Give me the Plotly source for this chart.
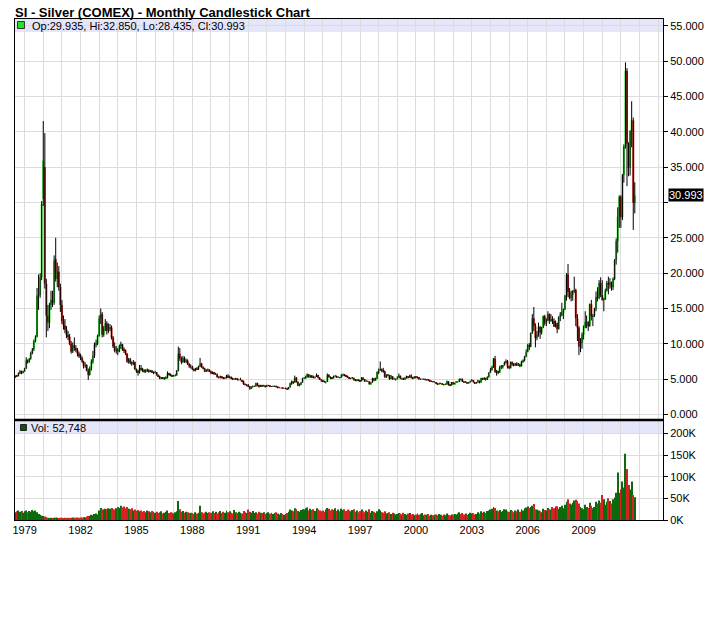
import plotly.graph_objects as go
import pandas as pd

# ---------------- data (monthly, Jul 1978 .. Oct 2011) ----------------
months = pd.date_range("1978-07-01", "2011-10-01", freq="MS")

opens = [
    5.30, 5.45, 5.42, 5.85, 6.10, 5.90,  # 1978 H2
    6.10, 6.50, 7.60, 7.45, 7.90, 8.70, 9.20, 10.40, 11.00, 16.80, 16.90, 19.40,  # 1979
    30.50, 35.00, 18.50, 14.00, 13.00, 15.50, 16.20, 15.80, 22.00, 19.20, 20.20, 18.00,  # 1980
    15.50, 13.20, 12.60, 12.00, 11.20, 11.00, 10.00, 8.90, 9.80, 9.40, 9.10, 8.60,  # 1981
    8.40, 8.00, 7.50, 6.90, 7.00, 6.20, 5.60, 6.60, 7.50, 8.30, 9.90, 10.00,  # 1982
    11.10, 13.60, 14.20, 11.30, 12.20, 12.90, 11.80, 12.10, 12.30, 10.90, 9.60, 9.00,  # 1983
    9.20, 8.90, 9.70, 9.90, 9.20, 9.10, 8.60, 7.50, 7.80, 7.30, 7.20, 7.40,  # 1984
    6.40, 6.10, 5.90, 6.50, 6.40, 6.20, 6.10, 6.20, 6.30, 6.10, 6.20, 6.00,  # 1985
    5.90, 6.00, 5.60, 5.40, 5.10, 5.20, 5.10, 5.10, 5.20, 5.80, 5.60, 5.50,  # 1986
    5.40, 5.50, 5.50, 6.20, 8.60, 7.90, 7.40, 8.00, 7.50, 7.60, 7.10, 6.80,  # 1987
    6.80, 6.40, 6.20, 6.50, 6.40, 6.80, 7.20, 6.70, 6.50, 6.10, 6.20, 6.30,  # 1988
    6.10, 5.80, 6.00, 5.70, 5.70, 5.30, 5.20, 5.40, 5.20, 5.10, 5.10, 5.50,  # 1989
    5.30, 5.30, 5.10, 5.00, 5.00, 5.10, 4.90, 4.90, 4.90, 4.70, 4.30, 4.20,  # 1990
    4.20, 4.00, 3.70, 3.90, 4.00, 4.00, 4.40, 4.10, 3.90, 4.10, 4.00, 4.10,  # 1991
    3.90, 4.10, 4.10, 4.00, 3.90, 4.00, 4.00, 3.90, 3.80, 3.80, 3.80, 3.70,  # 1992
    3.70, 3.70, 3.60, 3.80, 4.40, 4.60, 4.50, 5.20, 4.60, 4.10, 4.30, 4.50,  # 1993
    5.10, 5.10, 5.30, 5.70, 5.30, 5.50, 5.30, 5.20, 5.30, 5.60, 5.20, 5.00,  # 1994
    4.90, 4.70, 4.60, 4.60, 5.60, 5.30, 5.20, 5.10, 5.40, 5.40, 5.30, 5.30,  # 1995
    5.20, 5.60, 5.60, 5.50, 5.40, 5.30, 5.10, 5.10, 5.20, 4.90, 4.80, 4.90,  # 1996
    4.80, 4.70, 5.20, 5.00, 4.70, 4.70, 4.70, 4.30, 4.50, 5.10, 4.80, 5.00,  # 1997
    6.00, 6.20, 6.40, 6.30, 6.10, 5.30, 5.50, 5.60, 5.00, 5.40, 5.00, 5.00,  # 1998
    5.00, 5.20, 5.50, 5.10, 5.10, 5.00, 5.10, 5.40, 5.30, 5.50, 5.20, 5.10,  # 1999
    5.40, 5.20, 5.30, 5.00, 5.00, 5.00, 5.00, 4.90, 5.00, 4.80, 4.70, 4.70,  # 2000
    4.60, 4.60, 4.40, 4.30, 4.40, 4.40, 4.30, 4.20, 4.30, 4.70, 4.20, 4.10,  # 2001
    4.60, 4.30, 4.50, 4.60, 4.60, 5.00, 4.90, 4.60, 4.50, 4.60, 4.40, 4.60,  # 2002
    4.70, 4.80, 4.60, 4.40, 4.50, 4.80, 4.50, 5.10, 5.00, 5.10, 4.90, 5.30,  # 2003
    5.90, 6.30, 6.70, 7.90, 6.00, 6.10, 5.90, 6.60, 6.80, 7.00, 7.30, 7.50,  # 2004
    6.80, 6.60, 7.40, 7.10, 6.90, 7.20, 7.00, 7.10, 6.80, 7.50, 7.70, 8.20,  # 2005
    8.80, 9.80, 9.60, 11.50, 13.60, 12.50, 10.80, 11.30, 12.40, 11.60, 12.30, 13.90,  # 2006
    12.90, 13.30, 14.20, 13.30, 13.50, 13.20, 12.40, 12.90, 12.10, 13.80, 14.20, 14.40,  # 2007
    14.80, 16.80, 19.80, 17.30, 16.50, 16.90, 17.50, 17.60, 13.60, 12.30, 9.60, 10.10,  # 2008
    11.30, 12.40, 13.10, 13.10, 12.50, 15.60, 13.90, 14.00, 14.90, 16.60, 16.50, 18.60,  # 2009
    16.90, 16.20, 16.30, 17.50, 18.60, 18.40, 18.70, 18.00, 19.20, 21.80, 24.50, 28.00,  # 2010
    30.80, 27.90, 33.90, 37.90, 48.60, 38.30, 34.90, 40.10, 41.60, 29.935,  # 2011
]

highs = [
    5.55, 5.60, 5.95, 6.30, 6.20, 6.20,
    6.60, 8.10, 7.80, 8.00, 8.90, 9.40, 10.60, 11.20, 17.90, 19.80, 20.00, 30.20,
    41.50, 39.80, 19.20, 15.50, 15.80, 17.50, 17.50, 22.50, 25.00, 21.50, 21.00, 18.50,
    16.20, 14.00, 13.50, 12.50, 11.80, 11.40, 10.40, 10.20, 10.90, 9.80, 9.40, 8.90,
    8.60, 8.20, 7.60, 7.40, 7.10, 6.50, 6.80, 7.80, 9.00, 10.20, 10.60, 11.30,
    14.00, 15.00, 14.50, 12.50, 13.50, 13.20, 12.90, 12.80, 12.60, 11.10, 10.20, 9.70,
    9.40, 9.90, 10.30, 10.00, 9.50, 9.20, 8.70, 8.00, 8.00, 7.50, 7.70, 7.50,
    6.50, 6.30, 7.00, 7.00, 6.60, 6.40, 6.40, 6.50, 6.40, 6.30, 6.30, 6.10,
    6.20, 6.00, 5.70, 5.50, 5.30, 5.30, 5.30, 5.40, 6.10, 5.90, 5.80, 5.60,
    5.60, 5.70, 6.30, 9.60, 9.40, 8.20, 8.30, 8.20, 7.90, 7.80, 7.30, 7.10,
    6.90, 6.50, 6.60, 6.70, 6.90, 8.00, 7.30, 6.80, 6.60, 6.40, 6.50, 6.40,
    6.20, 6.10, 6.00, 5.90, 5.80, 5.40, 5.50, 5.40, 5.30, 5.30, 5.60, 5.70,
    5.50, 5.40, 5.20, 5.10, 5.20, 5.10, 5.00, 5.20, 4.90, 4.80, 4.40, 4.30,
    4.30, 4.00, 4.00, 4.10, 4.10, 4.50, 4.50, 4.20, 4.20, 4.20, 4.20, 4.10,
    4.20, 4.20, 4.10, 4.00, 4.10, 4.10, 4.10, 3.90, 3.90, 3.80, 3.80, 3.80,
    3.80, 3.80, 3.90, 4.50, 4.80, 4.70, 5.50, 5.30, 4.70, 4.40, 4.60, 5.20,
    5.30, 5.50, 5.80, 5.70, 5.60, 5.60, 5.50, 5.40, 5.80, 5.60, 5.30, 5.00,
    4.90, 4.80, 4.70, 5.80, 5.70, 5.40, 5.30, 5.50, 5.60, 5.50, 5.40, 5.30,
    5.70, 5.80, 5.70, 5.60, 5.50, 5.30, 5.20, 5.30, 5.20, 5.00, 5.00, 4.90,
    4.90, 5.30, 5.30, 5.00, 4.90, 4.80, 4.70, 4.60, 5.20, 5.20, 5.20, 6.10,
    6.50, 7.50, 6.50, 6.60, 6.20, 5.70, 5.70, 5.60, 5.60, 5.40, 5.20, 5.10,
    5.40, 5.80, 5.50, 5.20, 5.20, 5.30, 5.50, 5.40, 5.60, 5.70, 5.30, 5.40,
    5.40, 5.40, 5.30, 5.10, 5.10, 5.10, 5.10, 5.00, 5.00, 4.90, 4.80, 4.70,
    4.70, 4.60, 4.40, 4.50, 4.50, 4.40, 4.30, 4.40, 4.80, 4.70, 4.30, 4.60,
    4.60, 4.50, 4.70, 4.70, 5.10, 5.10, 5.10, 4.70, 4.70, 4.60, 4.60, 4.80,
    5.00, 4.80, 4.60, 4.60, 4.90, 4.80, 5.20, 5.20, 5.30, 5.20, 5.40, 6.00,
    6.60, 6.90, 8.00, 8.30, 6.30, 6.20, 6.90, 7.00, 7.00, 7.50, 7.80, 7.70,
    6.90, 7.50, 7.50, 7.30, 7.30, 7.40, 7.30, 7.20, 7.60, 7.80, 8.30, 9.20,
    10.00, 10.10, 11.60, 14.20, 15.20, 12.90, 11.80, 13.00, 12.50, 12.40, 14.00, 14.10,
    13.60, 14.60, 14.30, 14.20, 13.90, 13.60, 13.30, 13.00, 13.90, 14.50, 15.80, 15.00,
    16.90, 20.00, 21.30, 17.90, 17.50, 17.60, 19.50, 17.80, 14.20, 12.50, 10.80, 11.60,
    12.60, 14.60, 14.00, 13.20, 15.70, 16.20, 14.20, 15.10, 17.40, 18.00, 19.00, 19.40,
    19.00, 16.50, 17.80, 18.90, 19.50, 19.30, 18.80, 19.40, 22.00, 24.90, 29.30, 31.00,
    31.00, 34.00, 38.20, 49.80, 49.00, 38.50, 40.20, 44.30, 42.00, 32.85,
]

lows = [
    5.20, 5.35, 5.40, 5.75, 5.70, 5.80,
    6.05, 6.45, 7.20, 7.30, 7.75, 8.50, 9.00, 10.20, 10.90, 14.80, 16.50, 19.00,
    29.50, 17.80, 10.90, 11.80, 12.20, 14.80, 15.20, 15.50, 18.80, 18.00, 17.50, 14.50,
    12.80, 12.00, 11.50, 10.80, 10.50, 9.80, 8.60, 8.70, 9.00, 8.80, 8.20, 8.00,
    7.70, 7.30, 6.50, 6.60, 6.10, 4.90, 5.50, 6.20, 7.20, 8.00, 9.50, 9.80,
    11.00, 12.80, 10.90, 11.00, 11.80, 11.30, 11.50, 11.80, 10.60, 9.40, 8.80, 8.60,
    8.40, 8.80, 9.30, 9.00, 8.70, 8.40, 7.30, 7.20, 7.10, 6.90, 7.00, 6.30,
    5.90, 5.50, 5.80, 6.20, 6.00, 5.90, 5.90, 6.00, 5.90, 6.00, 5.90, 5.70,
    5.80, 5.50, 5.30, 5.00, 5.00, 5.00, 4.90, 5.00, 5.10, 5.50, 5.40, 5.30,
    5.40, 5.40, 5.50, 6.10, 7.60, 7.10, 7.30, 7.30, 7.30, 7.00, 6.60, 6.50,
    6.30, 6.10, 6.10, 6.30, 6.30, 6.70, 6.60, 6.40, 6.00, 6.00, 6.10, 6.00,
    5.70, 5.70, 5.60, 5.60, 5.20, 5.10, 5.10, 5.10, 5.00, 5.00, 5.10, 5.20,
    5.10, 5.00, 4.90, 4.90, 4.90, 4.80, 4.80, 4.80, 4.60, 4.20, 4.10, 4.00,
    3.90, 3.50, 3.60, 3.80, 3.90, 3.90, 4.00, 3.80, 3.90, 3.90, 4.00, 3.80,
    3.90, 4.00, 3.90, 3.90, 3.90, 3.90, 3.80, 3.70, 3.70, 3.70, 3.70, 3.60,
    3.60, 3.50, 3.60, 3.80, 4.20, 4.30, 4.50, 4.50, 4.00, 4.00, 4.20, 4.50,
    5.00, 5.10, 5.20, 5.20, 5.20, 5.20, 5.10, 5.10, 5.30, 5.10, 4.90, 4.60,
    4.60, 4.50, 4.40, 4.60, 5.20, 5.00, 5.00, 5.10, 5.30, 5.20, 5.20, 5.10,
    5.20, 5.40, 5.40, 5.30, 5.20, 5.00, 5.00, 5.10, 4.80, 4.70, 4.70, 4.70,
    4.60, 4.70, 4.90, 4.60, 4.60, 4.60, 4.20, 4.30, 4.50, 4.70, 4.80, 5.00,
    5.70, 6.20, 6.00, 5.90, 5.20, 5.20, 5.40, 4.90, 5.00, 4.90, 4.90, 4.80,
    5.00, 5.20, 5.00, 4.90, 4.90, 4.90, 5.10, 5.10, 5.20, 5.10, 5.00, 5.10,
    5.10, 5.10, 4.90, 4.90, 4.90, 4.90, 4.80, 4.80, 4.80, 4.70, 4.60, 4.50,
    4.50, 4.30, 4.20, 4.30, 4.30, 4.20, 4.10, 4.20, 4.20, 4.10, 4.00, 4.10,
    4.20, 4.30, 4.50, 4.50, 4.60, 4.80, 4.60, 4.50, 4.50, 4.40, 4.40, 4.50,
    4.70, 4.50, 4.30, 4.40, 4.50, 4.40, 4.50, 4.90, 4.90, 4.80, 4.90, 5.20,
    5.90, 6.20, 6.60, 5.90, 5.50, 5.70, 5.90, 6.40, 6.50, 6.90, 7.20, 6.50,
    6.40, 6.50, 6.90, 6.80, 6.90, 6.90, 6.90, 6.70, 6.80, 7.30, 7.50, 8.10,
    8.80, 9.10, 9.50, 11.40, 11.80, 9.50, 10.50, 11.00, 10.70, 11.30, 12.20, 12.60,
    12.50, 13.20, 12.80, 13.10, 12.80, 12.40, 12.30, 11.50, 12.00, 13.20, 13.90, 13.50,
    14.80, 16.10, 16.60, 16.30, 16.00, 16.10, 17.20, 12.50, 10.40, 8.40, 8.80, 9.30,
    10.60, 12.20, 12.20, 11.80, 12.40, 13.30, 12.50, 13.80, 14.60, 16.00, 16.30, 16.60,
    16.10, 14.60, 16.20, 17.40, 17.00, 17.80, 17.50, 17.60, 19.00, 21.20, 22.90, 26.40,
    26.40, 27.50, 32.80, 37.60, 32.30, 33.70, 33.80, 37.80, 26.10, 28.435,
]

closes = [
    5.45, 5.42, 5.85, 6.10, 5.90, 6.10,
    6.50, 7.60, 7.45, 7.90, 8.70, 9.20, 10.40, 11.00, 16.80, 16.90, 19.40, 29.80,
    35.90, 18.50, 14.00, 13.00, 15.50, 16.20, 15.80, 21.80, 19.20, 20.20, 18.00, 15.50,
    13.20, 12.60, 12.00, 11.20, 11.00, 10.00, 8.90, 9.80, 9.40, 9.10, 8.60, 8.40,
    8.00, 7.50, 6.90, 7.00, 6.20, 5.60, 6.60, 7.50, 8.30, 9.90, 10.00, 11.10,
    13.60, 14.20, 11.30, 12.20, 12.90, 11.80, 12.10, 12.30, 10.90, 9.60, 9.00, 9.20,
    8.90, 9.70, 9.90, 9.20, 9.10, 8.60, 7.50, 7.80, 7.30, 7.20, 7.40, 6.40,
    6.10, 5.90, 6.50, 6.40, 6.20, 6.10, 6.20, 6.30, 6.10, 6.20, 6.00, 5.90,
    6.00, 5.60, 5.40, 5.10, 5.20, 5.10, 5.10, 5.20, 5.80, 5.60, 5.50, 5.40,
    5.50, 5.50, 6.20, 8.60, 7.90, 7.40, 8.00, 7.50, 7.60, 7.10, 6.80, 6.80,
    6.40, 6.20, 6.50, 6.40, 6.80, 7.20, 6.70, 6.50, 6.10, 6.20, 6.30, 6.10,
    5.80, 6.00, 5.70, 5.70, 5.30, 5.20, 5.40, 5.20, 5.10, 5.10, 5.50, 5.30,
    5.30, 5.10, 5.00, 5.00, 5.10, 4.90, 4.90, 4.90, 4.70, 4.30, 4.20, 4.20,
    4.00, 3.70, 3.90, 4.00, 4.00, 4.40, 4.10, 3.90, 4.10, 4.00, 4.10, 3.90,
    4.10, 4.10, 4.00, 3.90, 4.00, 4.00, 3.90, 3.80, 3.80, 3.80, 3.70, 3.70,
    3.70, 3.60, 3.80, 4.40, 4.60, 4.50, 5.20, 4.60, 4.10, 4.30, 4.50, 5.10,
    5.10, 5.30, 5.70, 5.30, 5.50, 5.30, 5.20, 5.30, 5.60, 5.20, 5.00, 4.90,
    4.70, 4.60, 4.60, 5.60, 5.30, 5.20, 5.10, 5.40, 5.40, 5.30, 5.30, 5.20,
    5.60, 5.60, 5.50, 5.40, 5.30, 5.10, 5.10, 5.20, 4.90, 4.80, 4.90, 4.80,
    4.70, 5.20, 5.00, 4.70, 4.70, 4.70, 4.30, 4.50, 5.10, 4.80, 5.00, 6.00,
    6.20, 6.40, 6.30, 6.10, 5.30, 5.50, 5.60, 5.00, 5.40, 5.00, 5.00, 5.00,
    5.20, 5.50, 5.10, 5.10, 5.00, 5.10, 5.40, 5.30, 5.50, 5.20, 5.10, 5.40,
    5.20, 5.30, 5.00, 5.00, 5.00, 5.00, 4.90, 5.00, 4.80, 4.70, 4.70, 4.60,
    4.60, 4.40, 4.30, 4.40, 4.40, 4.30, 4.20, 4.30, 4.70, 4.20, 4.10, 4.60,
    4.30, 4.50, 4.60, 4.60, 5.00, 4.90, 4.60, 4.50, 4.60, 4.40, 4.60, 4.70,
    4.80, 4.60, 4.40, 4.50, 4.80, 4.50, 5.10, 5.00, 5.10, 4.90, 5.30, 5.90,
    6.30, 6.70, 7.90, 6.00, 6.10, 5.90, 6.60, 6.80, 7.00, 7.30, 7.50, 6.80,
    6.60, 7.40, 7.10, 6.90, 7.20, 7.00, 7.10, 6.80, 7.50, 7.70, 8.20, 8.80,
    9.80, 9.60, 11.50, 13.60, 12.50, 10.80, 11.30, 12.40, 11.60, 12.30, 13.90, 12.90,
    13.30, 14.20, 13.30, 13.50, 13.20, 12.40, 12.90, 12.10, 13.80, 14.20, 14.40, 14.80,
    16.80, 19.80, 17.30, 16.50, 16.90, 17.50, 17.60, 13.60, 12.30, 9.60, 10.10, 11.30,
    12.40, 13.10, 13.10, 12.50, 15.60, 13.90, 14.00, 14.90, 16.60, 16.50, 18.60, 16.90,
    16.20, 16.30, 17.50, 18.60, 18.40, 18.70, 18.00, 19.20, 21.80, 24.50, 28.00, 30.80,
    27.90, 33.90, 37.90, 48.60, 38.30, 34.90, 40.10, 41.60, 29.95, 30.993,
]

volumes_k = [
    18, 20, 22, 19, 21, 17,
    20, 22, 18, 21, 19, 23, 20, 22, 18, 14, 12, 10,
    9, 8, 7, 5, 4, 5, 4, 5, 6, 5, 4, 5,
    5, 4, 5, 4, 5, 4, 5, 6, 5, 5, 6, 5,
    6, 5, 7, 6, 8, 9, 10, 12, 11, 14, 15, 13,
    22, 28, 25, 24, 26, 25, 27, 26, 28, 25, 24, 27,
    30, 28, 33, 29, 31, 27, 30, 26, 25, 27, 22, 24,
    21, 23, 20, 22, 19, 21, 18, 22, 20, 18, 21, 19,
    17, 19, 16, 18, 20, 15, 17, 19, 22, 16, 18, 17,
    15, 18, 20, 44, 25, 19, 21, 17, 19, 18, 16, 17,
    16, 14, 18, 15, 17, 33, 18, 15, 17, 19, 16, 18,
    17, 20, 16, 19, 15, 18, 21, 16, 19, 17, 22, 18,
    20, 17, 15, 23, 18, 16, 19, 17, 15, 21, 18, 16,
    24, 19, 17, 21, 16, 18, 15, 19, 17, 16, 18, 14,
    16, 18, 15, 17, 14, 16, 18, 15, 13, 16, 14, 12,
    14, 16, 19, 24, 22, 20, 27, 25, 21, 19, 23, 25,
    24, 27, 29, 22, 26, 23, 25, 21, 27, 24, 22, 20,
    22, 19, 24, 28, 26, 22, 25, 23, 27, 21, 24, 20,
    26, 23, 25, 21, 24, 22, 20, 23, 25, 19, 22, 18,
    21, 24, 20, 18, 22, 19, 25, 17, 21, 19, 16, 20,
    25, 22, 18, 17, 20, 15, 16, 18, 14, 17, 15, 13,
    14, 16, 15, 13, 17, 14, 12, 15, 16, 13, 14, 11,
    13, 15, 12, 14, 16, 11, 13, 12, 14, 10, 12, 11,
    12, 13, 11, 14, 12, 10, 13, 11, 15, 12, 11, 13,
    12, 14, 13, 15, 18, 14, 16, 13, 15, 12, 14, 17,
    15, 16, 13, 14, 18, 15, 20, 17, 19, 16, 21, 22,
    24, 26, 30, 28, 22, 20, 23, 19, 21, 25, 24, 20,
    19, 23, 21, 18, 22, 20, 24, 19, 25, 22, 27, 29,
    31, 28, 30, 33, 37, 25, 24, 22, 20, 18, 26, 23,
    22, 28, 25, 24, 30, 27, 31, 32, 26, 30, 33, 27,
    35, 42, 48, 38, 36, 40, 45, 47, 44, 38, 30, 27,
    25, 35, 30, 28, 40, 33, 27, 30, 42, 38, 45, 40,
    58, 48, 35, 42, 50, 44, 38, 48, 52, 63, 110, 63,
    71, 89, 75, 153, 118, 81, 70, 89, 58, 52.748,
]

price_ticks = [0, 5, 10, 15, 20, 25, 30, 35, 40, 45, 50, 55]
vol_ticks = [0, 50000, 100000, 150000, 200000]
vol_labels = ["0K", "50K", "100K", "150K", "200K"]
label_years = list(range(1979, 2010, 3))
grid_years = list(range(1979, 2014))

title_text = "SI - Silver (COMEX) - Monthly Candlestick Chart"
last_idx = len(closes) - 1

assert len(months) == len(opens) == len(highs) == len(lows) == len(closes) == len(volumes_k)

# ---------------- geometry (page pixels; body margin removed below) ----------------
FONT = "Liberation Sans, Arial, sans-serif"
W, H = 720, 632
L, T = 12, 19                         # plot area from x=12, y=19
R = W - 663                           # right edge at x=663
B = H - 520                           # bottom at y=520
PW, PH = W - L - R, H - T - B         # 651 x 501
PANEL_SPLIT = 420                     # y between panels
main_bottom = (520 - PANEL_SPLIT) / PH


def px_x(px):          # page x -> paper
    return (px - L) / PW


def px_y(py):          # page y -> paper
    return (520 - py) / PH


UP = "#2ee62e"
DOWN = "#d6281c"
VUP = "#0c6a0c"
VDOWN = "#d42323"
GRID = "#dcdcdc"

# wicks
wx, wy = [], []
for d, h, l in zip(months, highs, lows):
    wx += [d, d, None]
    wy += [h, l, None]

body_base = [min(o, c) for o, c in zip(opens, closes)]
body_h = [abs(c - o) for o, c in zip(opens, closes)]
body_col = [UP if c >= o else DOWN for o, c in zip(opens, closes)]
vol = [v * 1000 for v in volumes_k]
vol_col = [VUP if c >= o else VDOWN for o, c in zip(opens, closes)]

DAY = 86400000
fig = go.Figure()
fig.add_trace(go.Scatter(x=wx, y=wy, mode="lines", line=dict(color="black", width=1),
                         xaxis="x", yaxis="y", hoverinfo="skip"))
fig.add_trace(go.Bar(x=months, y=body_h, base=body_base, width=40 * DAY,
                     marker=dict(color=body_col, line=dict(width=0)),
                     xaxis="x", yaxis="y"))
fig.add_trace(go.Bar(x=months, y=vol, width=19 * DAY,
                     marker=dict(color=vol_col, line=dict(width=0)),
                     xaxis="x2", yaxis="y2"))

x_range = ["1978-06-26", "2013-04-06"]
grid_vals = [f"{y}-01-01" for y in grid_years]
grid_text = [str(y) if y in label_years else "" for y in grid_years]
price_text = ["" if v == 30 else f"{v:.3f}" for v in price_ticks]

common_x = dict(type="date", range=x_range, tickvals=grid_vals, ticktext=grid_text,
                showgrid=True, gridcolor=GRID, gridwidth=1, showline=True,
                linecolor="black", linewidth=1, mirror=True, ticks="",
                zeroline=False, fixedrange=True)

fig.update_layout(
    width=W, height=H,
    margin=dict(l=L, r=R, t=T, b=B, pad=0),
    plot_bgcolor="white", paper_bgcolor="white",
    showlegend=False, barmode="overlay", hovermode=False,
    font=dict(family=FONT, size=11, color="black"),
    xaxis=dict(common_x, anchor="y", showticklabels=False),
    xaxis2=dict(common_x, anchor="y2", matches="x", showticklabels=True,
                tickfont=dict(size=11, family=FONT, color="black")),
    yaxis=dict(domain=[main_bottom, 1], range=[-0.778, 55.94], side="right",
               tickvals=price_ticks, ticktext=price_text, ticks="outside",
               ticklen=4, tickcolor="black", showline=True, linecolor="black",
               mirror=True, showgrid=True, gridcolor=GRID, zeroline=False,
               anchor="x", fixedrange=True),
    yaxis2=dict(domain=[0, main_bottom], range=[0, 231200], side="right",
                tickvals=vol_ticks, ticktext=vol_labels, ticks="outside",
                ticklen=4, tickcolor="black", showline=True, linecolor="black",
                mirror=True, showgrid=True, gridcolor=GRID, zeroline=False,
                anchor="x2", fixedrange=True),
)

# legend bands
fig.add_shape(type="rect", xref="x domain", yref="y domain", x0=0, x1=1,
              y0=(PANEL_SPLIT - 32) / (PANEL_SPLIT - T), y1=1,
              fillcolor="#e6e6fa", line=dict(width=0), layer="below")
fig.add_shape(type="rect", xref="x2 domain", yref="y2 domain", x0=0, x1=1,
              y0=(520 - 433.5) / (520 - PANEL_SPLIT), y1=1,
              fillcolor="#e6e6fa", line=dict(width=0), layer="below")
# thick separator
fig.add_shape(type="line", xref="paper", yref="paper", x0=0, x1=1,
              y0=px_y(PANEL_SPLIT), y1=px_y(PANEL_SPLIT),
              line=dict(color="black", width=2.5))
# legend squares
fig.add_shape(type="rect", xref="paper", yref="paper",
              x0=px_x(14.5), x1=px_x(21.5), y0=px_y(28.5), y1=px_y(21.5),
              fillcolor="#22e622", line=dict(color="#333333", width=1))
fig.add_shape(type="rect", xref="paper", yref="paper",
              x0=px_x(17.5), x1=px_x(23.5), y0=px_y(430.5), y1=px_y(424.5),
              fillcolor="#0b560b", line=dict(color="#222222", width=1))

legend_text = (f"Op:{opens[last_idx]:.3f}, Hi:{highs[last_idx]:.3f}, "
               f"Lo:{lows[last_idx]:.3f}, Cl:{closes[last_idx]:.3f}")
vol_text = f"Vol: {int(round(volumes_k[last_idx] * 1000)):,}"

fig.add_annotation(text=f"<b>{title_text}</b>", xref="paper", yref="paper",
                   x=px_x(10), y=px_y(12), xanchor="left", yanchor="middle",
                   showarrow=False, font=dict(size=13, family=FONT, color="black"))
fig.add_annotation(text=legend_text, xref="paper", yref="paper",
                   x=px_x(27), y=px_y(26), xanchor="left", yanchor="middle",
                   showarrow=False, font=dict(size=11, family=FONT, color="black"))
fig.add_annotation(text=vol_text, xref="paper", yref="paper",
                   x=px_x(26.5), y=px_y(427.5), xanchor="left", yanchor="middle",
                   showarrow=False, font=dict(size=11, family=FONT, color="black"))
fig.add_annotation(text=f"{closes[last_idx]:.3f}", xref="paper", yref="y",
                   x=1, y=closes[last_idx], xanchor="left", yanchor="middle",
                   xshift=5, showarrow=False, bgcolor="black", borderpad=0,
                   font=dict(size=11, family=FONT, color="white"))

fig.write_html("out.html",
               config={"displayModeBar": False},
               post_script="document.body.style.margin='0px';"
                           "document.body.style.overflow='hidden';")
